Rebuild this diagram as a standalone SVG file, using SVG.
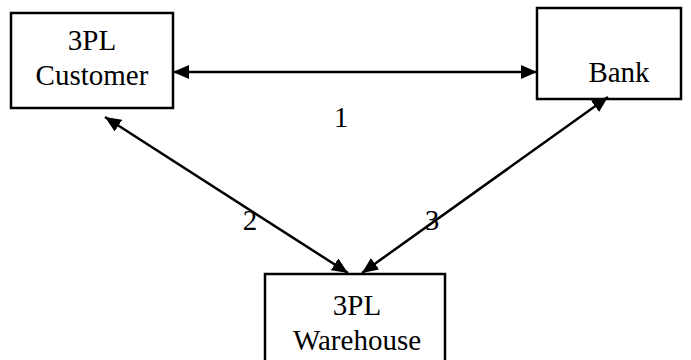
<svg xmlns="http://www.w3.org/2000/svg" width="691" height="360" viewBox="0 0 691 360">
<defs>
<style>
.box{fill:#fff;stroke:#000;stroke-width:2.5}
.t{font-family:"Liberation Serif","Times New Roman",serif;font-size:29px;fill:#000;text-anchor:middle}
.c{stroke:#000;stroke-width:2.5;fill:none;marker-end:url(#ah);marker-start:url(#ahs)}
</style>
<marker id="ah" viewBox="0 0 16 14" refX="16" refY="7" markerWidth="16" markerHeight="14" markerUnits="userSpaceOnUse" orient="auto">
<path d="M0,0 L16,7 L0,14 Z" fill="#000"/>
</marker>
<marker id="ahs" viewBox="0 0 16 14" refX="0" refY="7" markerWidth="16" markerHeight="14" markerUnits="userSpaceOnUse" orient="auto">
<path d="M16,0 L0,7 L16,14 Z" fill="#000"/>
</marker>
</defs>
<rect width="691" height="360" fill="#fff"/>
<g id="customer">
<rect class="box" x="11" y="13" width="162" height="95"/>
<text class="t" x="92" y="50">3PL</text>
<text class="t" x="92" y="85">Customer</text>
</g>
<g id="bank">
<rect class="box" x="537" y="8" width="144" height="91"/>
<text class="t" x="619" y="82">Bank</text>
</g>
<g id="warehouse">
<rect class="box" x="265" y="274" width="180" height="95"/>
<text class="t" x="357" y="315">3PL</text>
<text class="t" x="357" y="350">Warehouse</text>
</g>
<g id="connectors">
<line class="c" x1="173" y1="72" x2="537" y2="72"/>
<line class="c" x1="105" y1="117" x2="348" y2="273"/>
<line class="c" x1="362" y1="273" x2="608" y2="97"/>
<text class="t" x="341" y="127">1</text>
<text class="t" x="250" y="230">2</text>
<text class="t" x="432" y="230">3</text>
</g>
</svg>
